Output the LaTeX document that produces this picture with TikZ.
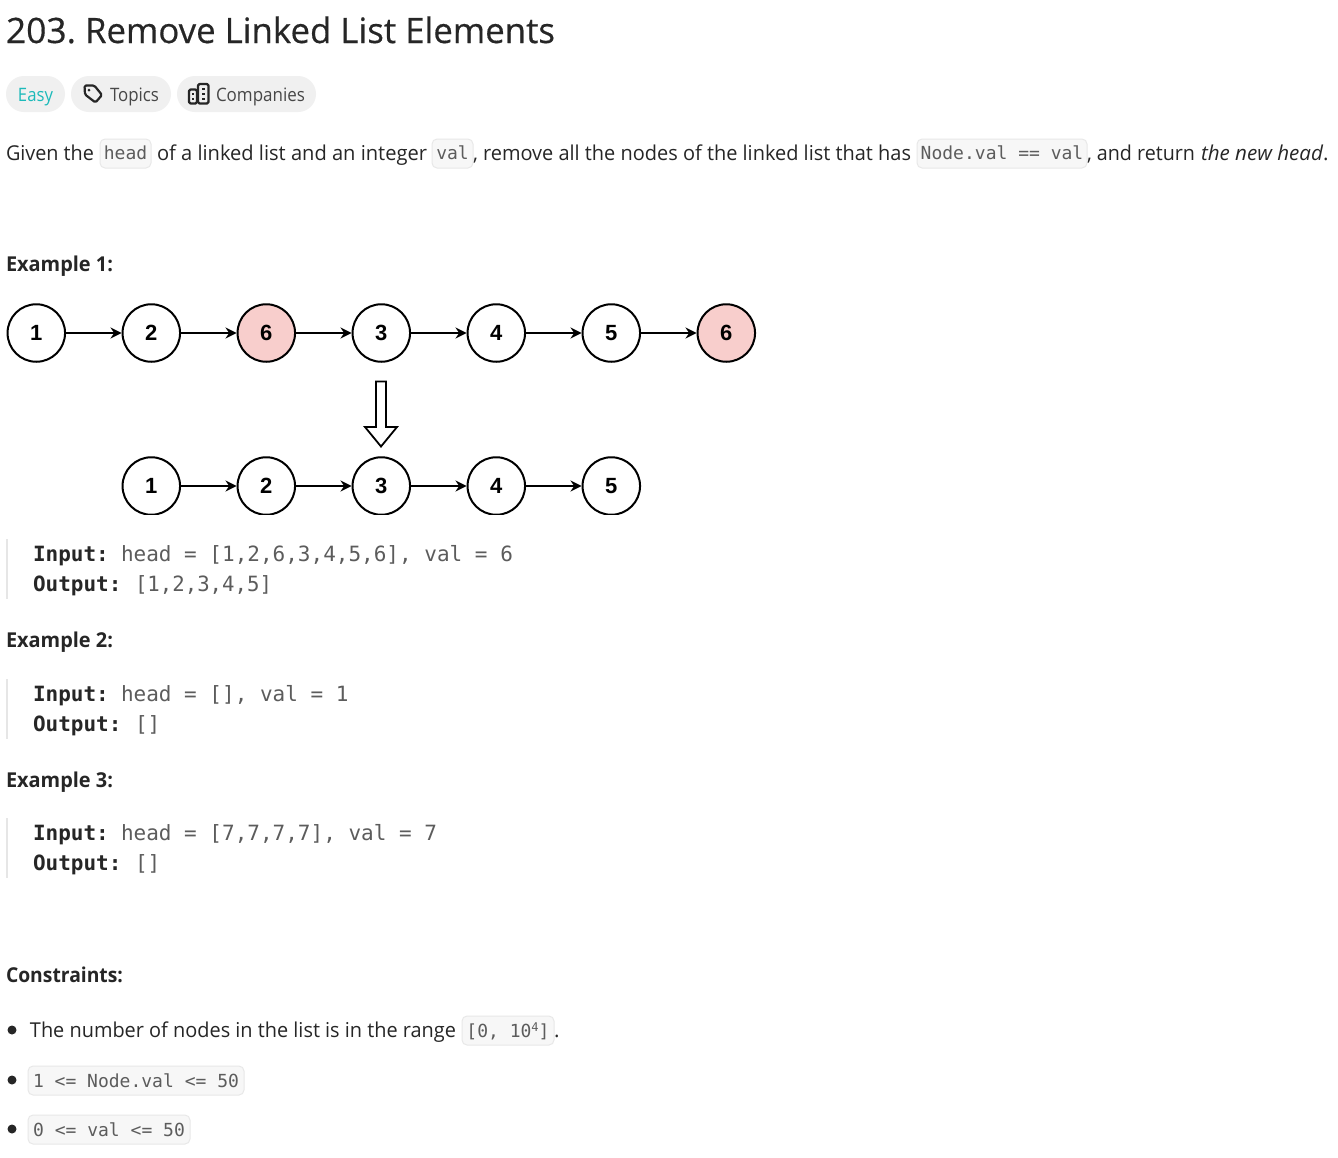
\documentclass[tikz,border=0pt]{standalone}
\usepackage{fontspec}
\usepackage{graphicx}
\usetikzlibrary{arrows.meta}
\setmainfont{Open Sans}
\newfontfamily\mn{DejaVu Sans Mono}
\newfontfamily\lb{Liberation Sans}
\definecolor{ink}{HTML}{262626}
\definecolor{codeink}{HTML}{5C5C5C}
\definecolor{pill}{HTML}{F0F0F0}
\definecolor{chipfill}{HTML}{F7F7F7}
\definecolor{chipline}{HTML}{E8E8E8}
\definecolor{barc}{HTML}{E6E6E6}
\definecolor{teal}{HTML}{1CBABA}
\definecolor{pinkn}{HTML}{F8CECC}
\newsavebox{\fitb}
\newcommand{\fitw}[2]{\sbox{\fitb}{#2}\pgfmathsetmacro{\fitf}{#1/(\the\wd\fitb)}\scalebox{\fitf}[1]{\usebox{\fitb}}}
\newcommand{\bodyf}{\fontsize{20.5}{24}\selectfont}
\newcommand{\blockf}{\fontsize{21}{24}\selectfont\mn}
\newcommand{\chipf}{\fontsize{18}{22}\selectfont\mn}
\tikzset{
  txt/.style={anchor=base west,inner sep=0pt,outer sep=0pt,text=ink,font=\bodyf},
  inputl/.style={anchor=base west,inner sep=0pt,outer sep=0pt,text=ink,font=\blockf\bfseries},
  valuel/.style={anchor=base west,inner sep=0pt,outer sep=0pt,text=codeink,font=\blockf},
  chip/.style={draw=chipline,fill=chipfill,line width=1pt,rounded corners=5pt,inner sep=0pt,text=codeink,font=\chipf,text height=14pt,text depth=2pt},
  chiplow/.style={chip,text height=15pt,text depth=1.5pt},
  pillbox/.style={fill=pill,rounded corners=18pt,inner sep=0pt,minimum height=36pt},
  qbar/.style={fill=barc,inner sep=0pt,minimum width=2.5pt,minimum height=60pt},
  ll/.style={circle,draw=black,line width=2pt,fill=white,minimum size=57.5pt,inner sep=0pt,font=\lb\fontsize{22}{24}\selectfont\bfseries,text=black},
  llp/.style={ll,fill=pinkn},
  link/.style={draw=black,line width=1.8pt,-{Stealth[length=11pt,width=11pt]}},
  bul/.style={circle,fill=ink,inner sep=0pt,minimum size=9pt},
  icn/.style={draw=ink,line width=2.2pt,line join=round,rounded corners=1.5pt},
  bigarrow/.style={draw=black,line width=1.8pt,fill=white,line join=miter}
}
\begin{document}
\begin{tikzpicture}[x=1pt,y=-1pt]
\useasboundingbox (0,0) rectangle (1338,1157);
\fill[white] (0,0) rectangle (1338,1157);
% title
\node[txt,font=\fontsize{35}{40}\selectfont] (title) at (6,43) {\fitw{70pt}{\addfontfeature{FakeBold=0.4}203.}};
\node[txt,font=\fontsize{35}{40}\selectfont] (title2) at (85,43) {\fitw{470pt}{\addfontfeature{FakeBold=0.4}Remove Linked List Elements}};
% pills
\node[pillbox,minimum width=59pt] (p1) at (35.5,94) {};
\node[pillbox,minimum width=100pt] (p2) at (121,94) {};
\node[pillbox,minimum width=139pt] (p3) at (246.5,94) {};
\node[txt,text=teal,font=\fontsize{18.5}{22}\selectfont] (easy) at (18,101) {\fitw{35pt}{Easy}};
\node[txt,font=\fontsize{18.5}{22}\selectfont,text=ink!85] (topics) at (110,101) {\fitw{49pt}{Topics}};
\node[txt,font=\fontsize{18.5}{22}\selectfont,text=ink!85] (companies) at (216,101) {\fitw{89pt}{Companies}};
% tag icon
\draw[icn] (84.5,85.5) -- (94.3,85.5) -- (102,95) -- (95.5,102.5) -- (85,94.5) -- cycle;
\fill[ink] (89,90.2) circle (1.5pt);
% building icon
\draw[icn] (189,89.5) -- (197,89.5) -- (197,103.5) -- (189,103.5) -- cycle;
\draw[icn] (198,84) -- (208.5,84) -- (208.5,103.5) -- (198,103.5) -- cycle;
\foreach \yy in {93,97.5}{\fill[ink] (192,\yy) rectangle ++(2.4,2.4);}
\foreach \yy in {87.5,92.5,97.5}{\fill[ink] (202.2,\yy) rectangle ++(2.4,2.4);}
% intro line
\node[txt] (g1) at (6,160) {\fitw{88pt}{Given the}};
\node[chip,minimum width=51pt,minimum height=29pt] (c1) at (125.5,153.5) {head};
\node[txt] (g2) at (157,160) {\fitw{270pt}{of a linked list and an integer}};
\node[chip,minimum width=41pt,minimum height=29pt] (c2) at (452.5,153.5) {val};
\node[txt] (g3) at (473,160) {\fitw{438pt}{, remove all the nodes of the linked list that has}};
\node[chip,minimum width=170pt,minimum height=29pt] (c3) at (1002,153.5) {Node.val == val};
\node[txt] (g4) at (1087,160) {\fitw{108pt}{, and return}};
\node[txt] (g5) at (1201,160) {\fitw{122pt}{\itshape the new head}};
\node[txt] (g6) at (1323,160) {.};
% example headings
\node[txt,font=\bodyf\bfseries] (e1) at (6,271) {\fitw{107pt}{Example 1:}};
\node[txt,font=\bodyf\bfseries] (e2) at (6,647) {\fitw{107pt}{Example 2:}};
\node[txt,font=\bodyf\bfseries] (e3) at (6,787) {\fitw{107pt}{Example 3:}};
\node[txt,font=\bodyf\bfseries] (e4) at (6,982) {\fitw{117pt}{Constraints:}};
% linked list top
\node[ll] (a1) at (36.3,333) {1};
\node[ll] (a2) at (151.3,333) {2};
\node[llp] (a3) at (266.3,333) {6};
\node[ll] (a4) at (381.3,333) {3};
\node[ll] (a5) at (496.3,333) {4};
\node[ll] (a6) at (611.3,333) {5};
\node[llp] (a7) at (726.3,333) {6};
\foreach \u/\v in {a1/a2,a2/a3,a3/a4,a4/a5,a5/a6,a6/a7}{\draw[link] (\u) -- (\v);}
% block arrow
\draw[bigarrow] (376,381.5) -- (386,381.5) -- (386,427) -- (397,427) -- (381,446.5) -- (365,427) -- (376,427) -- cycle;
% linked list bottom (picture cropped at its lower edge)
\begin{scope}
\clip (100,440) rectangle (660,514.5);
\node[ll] (b1) at (151.3,486) {1};
\node[ll] (b2) at (266.3,486) {2};
\node[ll] (b3) at (381.3,486) {3};
\node[ll] (b4) at (496.3,486) {4};
\node[ll] (b5) at (611.3,486) {5};
\foreach \u/\v in {b1/b2,b2/b3,b3/b4,b4/b5}{\draw[link] (\u) -- (\v);}
\end{scope}
% example blocks
\node[qbar] (q1) at (7.2,569) {};
\node[inputl] (i1) at (33,561) {Input:};
\node[valuel] (v1) at (121,561) {head = [1,2,6,3,4,5,6], val = 6};
\node[inputl] (o1) at (33,591) {Output:};
\node[valuel] (w1) at (135,591) {\fitw{137pt}{[1,2,3,4,5]}};
\node[qbar] (q2) at (7.2,709) {};
\node[inputl] (i2) at (33,701) {Input:};
\node[valuel] (v2) at (121,701) {head = [], val = 1};
\node[inputl] (o2) at (33,731) {Output:};
\node[valuel] (w2) at (135,731) {[]};
\node[qbar] (q3) at (7.2,848) {};
\node[inputl] (i3) at (33,840) {Input:};
\node[valuel] (v3) at (121,840) {head = [7,7,7,7], val = 7};
\node[inputl] (o3) at (33,870) {Output:};
\node[valuel] (w3) at (135,870) {[]};
% constraints
\node[bul] (d1) at (12,1030) {};
\node[bul] (d2) at (12,1080) {};
\node[bul] (d3) at (12,1129) {};
\node[txt] (k1) at (30,1037) {\fitw{426pt}{The number of nodes in the list is in the range}};
\node[chiplow,minimum width=92pt,minimum height=29pt] (c4) at (508,1030.5) {[0, 10\raisebox{6pt}{\fontsize{12}{14}\selectfont 4}]};
\node[txt] (k2) at (554,1037) {.};
\node[chiplow,minimum width=216pt,minimum height=29pt] (c5) at (136,1080.5) {1 <= Node.val <= 50};
\node[chiplow,minimum width=162pt,minimum height=29pt] (c6) at (109,1129.5) {0 <= val <= 50};
\end{tikzpicture}
\end{document}
